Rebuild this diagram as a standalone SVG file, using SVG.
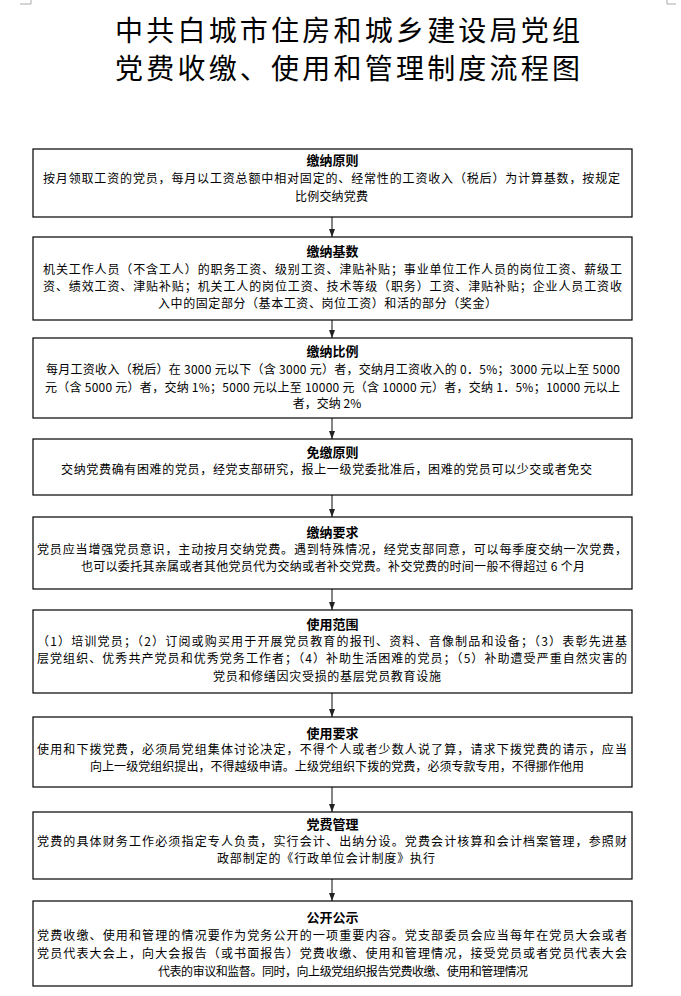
<svg xmlns="http://www.w3.org/2000/svg" width="681" height="996" viewBox="0 0 681 996">
<defs>
<style>
.box{fill:#fff;stroke:#000;stroke-width:1.2}
.h{font-family:"Noto Sans CJK SC","Noto Sans",sans-serif;font-size:13px;font-weight:bold;fill:#000;text-anchor:middle}
.t{font-family:"Noto Sans CJK SC","Noto Sans",sans-serif;font-size:12px;fill:#000}
.ttl{font-family:"Noto Sans CJK SC",sans-serif;font-size:28px;fill:#000}
.arr{stroke:#333;stroke-width:1.2;fill:none;marker-end:url(#ah)}
.mark{stroke:#aaa;stroke-width:1;fill:none}
</style>
<marker id="ah" viewBox="0 0 8 8" refX="8" refY="4" markerWidth="8" markerHeight="8" markerUnits="userSpaceOnUse" orient="auto">
<path d="M0,1 L8,4 L0,7 Z" fill="#222"/>
</marker>
</defs>
<rect width="681" height="996" fill="#fff"/>
<path class="mark" d="M31,0 V4 H20 M667,0 V4 H676"/>
<g id="title">
<text class="ttl" x="115" y="41" textLength="465" lengthAdjust="spacing">中共白城市住房和城乡建设局党组</text>
<text class="ttl" x="115" y="79" textLength="465" lengthAdjust="spacing">党费收缴、使用和管理制度流程图</text>
</g>
<g id="connectors">
<line class="arr" x1="332" y1="217" x2="332" y2="237"/>
<line class="arr" x1="332" y1="320" x2="332" y2="338"/>
<line class="arr" x1="332" y1="418" x2="332" y2="439"/>
<line class="arr" x1="332" y1="495" x2="332" y2="517"/>
<line class="arr" x1="332" y1="589" x2="332" y2="610"/>
<line class="arr" x1="332" y1="693" x2="332" y2="717"/>
<line class="arr" x1="332" y1="787" x2="332" y2="812"/>
<line class="arr" x1="332" y1="879" x2="332" y2="901"/>
</g>
<g id="n1">
<rect class="box" x="33" y="149" width="599" height="68"/>
<text class="h" x="332.5" y="165">缴纳原则</text>
<text class="t" x="43" y="182.5" textLength="577" lengthAdjust="spacing">按月领取工资的党员，每月以工资总额中相对固定的、经常性的工资收入（税后）为计算基数，按规定</text>
<text class="t" x="295" y="201" textLength="73" lengthAdjust="spacing">比例交纳党费</text>
</g>
<g id="n2">
<rect class="box" x="33" y="237" width="599" height="83"/>
<text class="h" x="332.5" y="256">缴纳基数</text>
<text class="t" x="43" y="273.5" textLength="579" lengthAdjust="spacing">机关工作人员（不含工人）的职务工资、级别工资、津贴补贴；事业单位工作人员的岗位工资、薪级工</text>
<text class="t" x="43" y="290.5" textLength="579" lengthAdjust="spacing">资、绩效工资、津贴补贴；机关工人的岗位工资、技术等级（职务）工资、津贴补贴；企业人员工资收</text>
<text class="t" x="158" y="307.5" textLength="339" lengthAdjust="spacing">入中的固定部分（基本工资、岗位工资）和活的部分（奖金）</text>
</g>
<g id="n3">
<rect class="box" x="33" y="338" width="599" height="80"/>
<text class="h" x="332.5" y="356">缴纳比例</text>
<text class="t" x="46" y="373.5" textLength="574" lengthAdjust="spacing">每月工资收入（税后）在 3000 元以下（含 3000 元）者，交纳月工资收入的 0．5%；3000 元以上至 5000</text>
<text class="t" x="45" y="391.5" textLength="575" lengthAdjust="spacing">元（含 5000 元）者，交纳 1%；5000 元以上至 10000 元（含 10000 元）者，交纳 1．5%；10000 元以上</text>
<text class="t" x="327" y="408" text-anchor="middle">者，交纳 2%</text>
</g>
<g id="n4">
<rect class="box" x="33" y="439" width="599" height="56"/>
<text class="h" x="332.5" y="456.5">免缴原则</text>
<text class="t" x="61" y="473.5" textLength="531" lengthAdjust="spacing">交纳党费确有困难的党员，经党支部研究，报上一级党委批准后，困难的党员可以少交或者免交</text>
</g>
<g id="n5">
<rect class="box" x="33" y="517" width="599" height="72"/>
<text class="h" x="332.5" y="536.5">缴纳要求</text>
<text class="t" x="37" y="554" textLength="590" lengthAdjust="spacing">党员应当增强党员意识，主动按月交纳党费。遇到特殊情况，经党支部同意，可以每季度交纳一次党费，</text>
<text class="t" x="81" y="571" textLength="504" lengthAdjust="spacing">也可以委托其亲属或者其他党员代为交纳或者补交党费。补交党费的时间一般不得超过 6 个月</text>
</g>
<g id="n6">
<rect class="box" x="33" y="610" width="599" height="83"/>
<text class="h" x="332.5" y="629">使用范围</text>
<text class="t" x="37" y="645.5" textLength="590" lengthAdjust="spacing">（1）培训党员；（2）订阅或购买用于开展党员教育的报刊、资料、音像制品和设备；（3）表彰先进基</text>
<text class="t" x="37" y="662.5" textLength="590" lengthAdjust="spacing">层党组织、优秀共产党员和优秀党务工作者；（4）补助生活困难的党员；（5）补助遭受严重自然灾害的</text>
<text class="t" x="213" y="680.5" textLength="228" lengthAdjust="spacing">党员和修缮因灾受损的基层党员教育设施</text>
</g>
<g id="n7">
<rect class="box" x="33" y="717" width="599" height="70"/>
<text class="h" x="332.5" y="737.5">使用要求</text>
<text class="t" x="37" y="754" textLength="590" lengthAdjust="spacing">使用和下拨党费，必须局党组集体讨论决定，不得个人或者少数人说了算，请求下拨党费的请示，应当</text>
<text class="t" x="90" y="771" textLength="494" lengthAdjust="spacing">向上一级党组织提出，不得越级申请。上级党组织下拨的党费，必须专款专用，不得挪作他用</text>
</g>
<g id="n8">
<rect class="box" x="33" y="812" width="599" height="67"/>
<text class="h" x="332.5" y="829">党费管理</text>
<text class="t" x="37" y="845.5" textLength="590" lengthAdjust="spacing">党费的具体财务工作必须指定专人负责，实行会计、出纳分设。党费会计核算和会计档案管理，参照财</text>
<text class="t" x="217" y="862.5" textLength="218" lengthAdjust="spacing">政部制定的《行政单位会计制度》执行</text>
</g>
<g id="n9">
<rect class="box" x="33" y="901" width="599" height="85"/>
<text class="h" x="332.5" y="922">公开公示</text>
<text class="t" x="37" y="939.5" textLength="590" lengthAdjust="spacing">党费收缴、使用和管理的情况要作为党务公开的一项重要内容。党支部委员会应当每年在党员大会或者</text>
<text class="t" x="37" y="957.5" textLength="590" lengthAdjust="spacing">党员代表大会上，向大会报告（或书面报告）党费收缴、使用和管理情况，接受党员或者党员代表大会</text>
<text class="t" x="158" y="975.5" textLength="370" lengthAdjust="spacing">代表的审议和监督。同时，向上级党组织报告党费收缴、使用和管理情况</text>
</g>
</svg>
